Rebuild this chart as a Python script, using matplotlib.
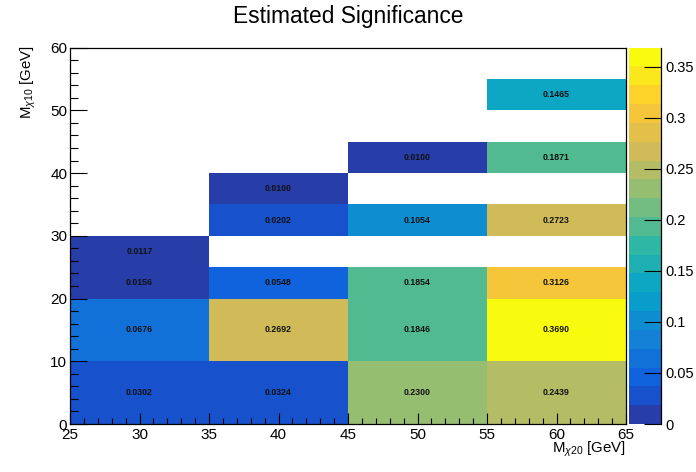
import numpy as np
import matplotlib
matplotlib.use('Agg')
import matplotlib.pyplot as plt
from matplotlib.colors import LinearSegmentedColormap, ListedColormap, BoundaryNorm
from matplotlib.ticker import MultipleLocator, FuncFormatter

plt.rcParams['font.family'] = ['Liberation Sans', 'DejaVu Sans']
plt.rcParams['mathtext.fontset'] = 'custom'
plt.rcParams['mathtext.rm'] = 'Liberation Sans'
plt.rcParams['mathtext.it'] = 'Liberation Sans:italic'

# bordes de los bins
bordesX = [25, 35, 45, 55, 65]
bordesY = [0, 10, 20, 25, 30, 35, 40, 45, 50, 55, 60]

# significancia por columna (de abajo hacia arriba), nan = bin vacio
col25_35 = [0.0302, 0.0676, 0.0156, 0.0117, np.nan, np.nan, np.nan, np.nan, np.nan, np.nan]
col35_45 = [0.0324, 0.2692, 0.0548, np.nan, 0.0202, 0.0100, np.nan, np.nan, np.nan, np.nan]
col45_55 = [0.2300, 0.1846, 0.1854, np.nan, 0.1054, np.nan, 0.0100, np.nan, np.nan, np.nan]
col55_65 = [0.2439, 0.3690, 0.3126, np.nan, 0.2723, np.nan, 0.1871, np.nan, 0.1465, np.nan]

Z = np.array([col25_35, col35_45, col45_55, col55_65]).T
zmax = np.nanmax(Z)

# paleta kBird de ROOT
stops = [0.0, 0.125, 0.25, 0.375, 0.5, 0.625, 0.75, 0.875, 1.0]
rojo = [0.2082, 0.0592, 0.0780, 0.0232, 0.1802, 0.5301, 0.8186, 0.9956, 0.9764]
verde = [0.1664, 0.3599, 0.5041, 0.6419, 0.7178, 0.7492, 0.7328, 0.7862, 0.9832]
azul = [0.5293, 0.8684, 0.8385, 0.7914, 0.6425, 0.4662, 0.3499, 0.1968, 0.0539]
bird = LinearSegmentedColormap.from_list('bird', [(s, (r, g, b)) for s, r, g, b in zip(stops, rojo, verde, azul)], N=255)
ndiv = 20
colores = [bird(int((i + 0.99) * 255 / ndiv)) for i in range(ndiv)]
cmap = ListedColormap(colores)
niveles = np.linspace(0, zmax, ndiv + 1)
norm = BoundaryNorm(niveles, ndiv)

W, H = 696, 472
fig = plt.figure(figsize=(W / 100, H / 100), dpi=100)
izq, der, arr, aba = 70, 626, 47.6, 424
ax = fig.add_axes([izq / W, 1 - aba / H, (der - izq) / W, (aba - arr) / H])

ax.pcolormesh(bordesX, bordesY, np.ma.masked_invalid(Z), cmap=cmap, norm=norm)
for i in range(Z.shape[0]):
    for j in range(Z.shape[1]):
        v = Z[i, j]
        if not np.isnan(v):
            xc = 0.5 * (bordesX[j] + bordesX[j + 1])
            yc = 0.5 * (bordesY[i] + bordesY[i + 1])
            ax.text(xc, yc, '%.4f' % v, ha='center', va='center', fontsize=6.3,
                    fontweight='bold', color='#111111')

ax.set_xlim(25, 65)
ax.set_ylim(0, 60)
ax.xaxis.set_major_locator(MultipleLocator(5))
ax.xaxis.set_minor_locator(MultipleLocator(1))
ax.yaxis.set_major_locator(MultipleLocator(10))
ax.yaxis.set_minor_locator(MultipleLocator(2))
ax.tick_params(axis='x', which='major', direction='in', length=8, width=0.8, labelsize=11, pad=3)
ax.tick_params(axis='x', which='minor', direction='in', length=4.3, width=0.8)
ax.tick_params(axis='y', which='major', direction='in', length=12, width=0.8, labelsize=11, pad=2)
ax.tick_params(axis='y', which='minor', direction='in', length=6, width=0.8)
for s in ax.spines.values():
    s.set_linewidth(0.9)

fig.text(der / W, 1 - 453 / H, r'M$_{\chi20}$ [GeV]', ha='right', va='baseline', fontsize=10.8)
fig.text(28 / W, 1 - 45 / H, r'M$_{\chi10}$ [GeV]', ha='center', va='top', rotation=90, fontsize=10.8)
fig.text(0.5, 1 - 17 / H, 'Estimated Significance', ha='center', va='center', fontsize=16.4)

# barra de colores
cax = fig.add_axes([629 / W, 1 - aba / H, (661 - 629) / W, (aba - arr) / H])
cb = fig.colorbar(plt.cm.ScalarMappable(norm=norm, cmap=cmap), cax=cax, ticks=np.arange(0, 0.36, 0.05))
cb.outline.set_visible(False)
cax.tick_params(direction='in', length=12, width=0.8, labelsize=10.5, pad=3)
cax.yaxis.set_major_formatter(FuncFormatter(lambda v, p: '%g' % round(v, 2)))
cax.minorticks_off()
cax.spines['right'].set_visible(True)
cax.spines['right'].set_linewidth(0.9)

fig.savefig('out.png', dpi=100)
